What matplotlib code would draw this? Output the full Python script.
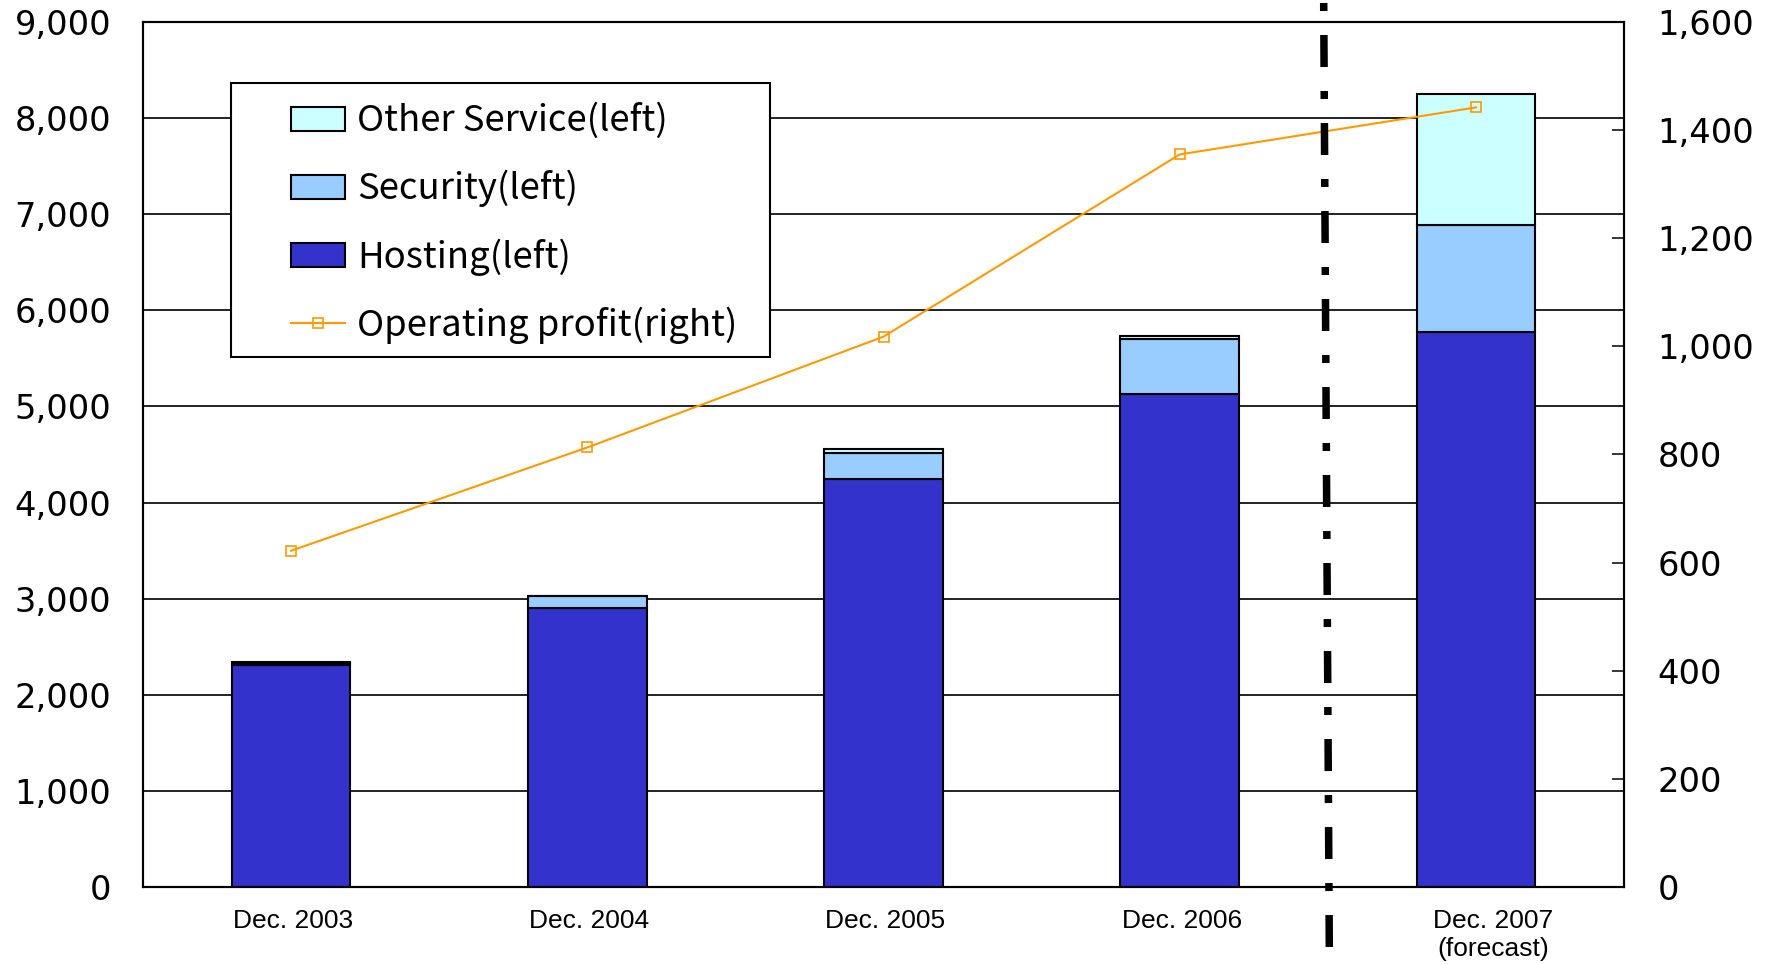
import matplotlib
matplotlib.use("Agg")
import matplotlib.pyplot as plt
import matplotlib.transforms as mtransforms
from matplotlib.lines import Line2D
from matplotlib.patches import Patch, Rectangle
from matplotlib.ticker import FuncFormatter
import numpy as np

# ---- data ----
categories = ["Dec. 2003", "Dec. 2004", "Dec. 2005", "Dec. 2006", "Dec. 2007\n(forecast)"]
hosting = [2315, 2905, 4250, 5125, 5775]
security = [20, 120, 270, 575, 1115]
other = [10, 5, 40, 35, 1360]
operating_profit = [622, 813, 1018, 1355, 1442]

left_ticks = list(range(0, 9001, 1000))
right_ticks = list(range(0, 1601, 200))
series_labels = ["Other Service(left)", "Security(left)", "Hosting(left)", "Operating profit(right)"]

# ---- style ----
c_host = "#3333CC"
c_sec = "#99CCFF"
c_oth = "#CCFFFF"
c_line = "#FF9900"
lab_font = "Liberation Sans"
num_font = "DejaVu Sans"
leg_font = "Noto Sans CJK JP"

W, H = 1776, 964
fig = plt.figure(figsize=(W / 100, H / 100), dpi=100)
L, R, T, B = 143, 1624, 22, 887
ax = fig.add_axes([L / W, 1 - B / H, (R - L) / W, (B - T) / H])

x = np.arange(len(categories))
bw = 0.40
ekw = dict(edgecolor="black", linewidth=1.5, zorder=3)
ax.bar(x, hosting, bw, color=c_host, **ekw)
bottom2 = np.array(hosting)
ax.bar(x, security, bw, bottom=bottom2, color=c_sec, **ekw)
bottom3 = bottom2 + np.array(security)
ax.bar(x, other, bw, bottom=bottom3, color=c_oth, **ekw)

ax.set_xlim(-0.5, len(categories) - 0.5)
ax.set_ylim(0, 9000)
ax.set_yticks(left_ticks)
ax.yaxis.set_major_formatter(FuncFormatter(lambda v, p: f"{int(v):,}"))
ax.grid(axis="y", color="#111111", linewidth=1.3, zorder=0)
ax.set_axisbelow(True)
ax.tick_params(axis="y", length=0, pad=23, labelsize=24.2)
ax.set_xticks(x)
ax.set_xticklabels(categories, fontsize=19, linespacing=1.2)
ax.tick_params(axis="x", length=0, pad=16)
for lab in ax.get_yticklabels():
    lab.set_family(num_font)
for i, lab in enumerate(ax.get_xticklabels()):
    lab.set_family(lab_font)
    dx = 17 if i == len(categories) - 1 else 2
    lab.set_transform(lab.get_transform() +
                      mtransforms.ScaledTranslation(dx / 100, 0, fig.dpi_scale_trans))
for s in ax.spines.values():
    s.set_linewidth(1.5)
    s.set_color("black")

ax2 = ax.twinx()
ax2.set_ylim(0, 1600)
ax2.set_yticks(right_ticks)
ax2.yaxis.set_major_formatter(FuncFormatter(lambda v, p: f"{int(v):,}"))
ax2.tick_params(axis="y", direction="in", length=8.6, width=1.1, pad=24, labelsize=24.2)
for lab in ax2.get_yticklabels():
    lab.set_family(num_font)
for s in ax2.spines.values():
    s.set_linewidth(1.5)
ax2.plot(x, operating_profit, color=c_line, linewidth=1.5, marker="s",
         markersize=7, markerfacecolor="none", markeredgecolor=c_line,
         markeredgewidth=1.2, zorder=4)

# legend frame (drawn separately so horizontal/vertical padding can differ)
frame = Rectangle((231 / W, 1 - 357 / H), (770 - 231) / W, (357 - 83) / H,
                  transform=fig.transFigure, facecolor="white", edgecolor="black",
                  linewidth=1.5, zorder=5, clip_on=False)
ax2.add_patch(frame)

handles = [
    Patch(facecolor=c_oth, edgecolor="black", linewidth=1.5),
    Patch(facecolor=c_sec, edgecolor="black", linewidth=1.5),
    Patch(facecolor=c_host, edgecolor="black", linewidth=1.5),
    Line2D([0], [0], color=c_line, linewidth=1.5, marker="s", markersize=7,
           markerfacecolor="none", markeredgecolor=c_line, markeredgewidth=1.2),
]
fs_leg = 26.3
leg = ax2.legend(handles, series_labels, loc="upper left",
                 bbox_to_anchor=(291 / W, 1 - 103 / H), bbox_transform=fig.transFigure,
                 borderaxespad=0, frameon=False,
                 prop={"family": leg_font, "size": fs_leg},
                 handlelength=1.48, handleheight=0.63, handletextpad=0.34,
                 borderpad=0, labelspacing=0.84)
leg.set_zorder(6)

# vertical dash-dot separator (figure pixel coords)
sep = Line2D([1323.7 / W, 1329.3 / W], [1 - 3 / H, 1 - 947 / H],
             transform=fig.transFigure, color="black", linewidth=5.4,
             dashes=(1.067, 3.2, 4.267, 3.2), dash_capstyle="butt", zorder=10)
fig.add_artist(sep)

fig.savefig("out.png", dpi=100)
